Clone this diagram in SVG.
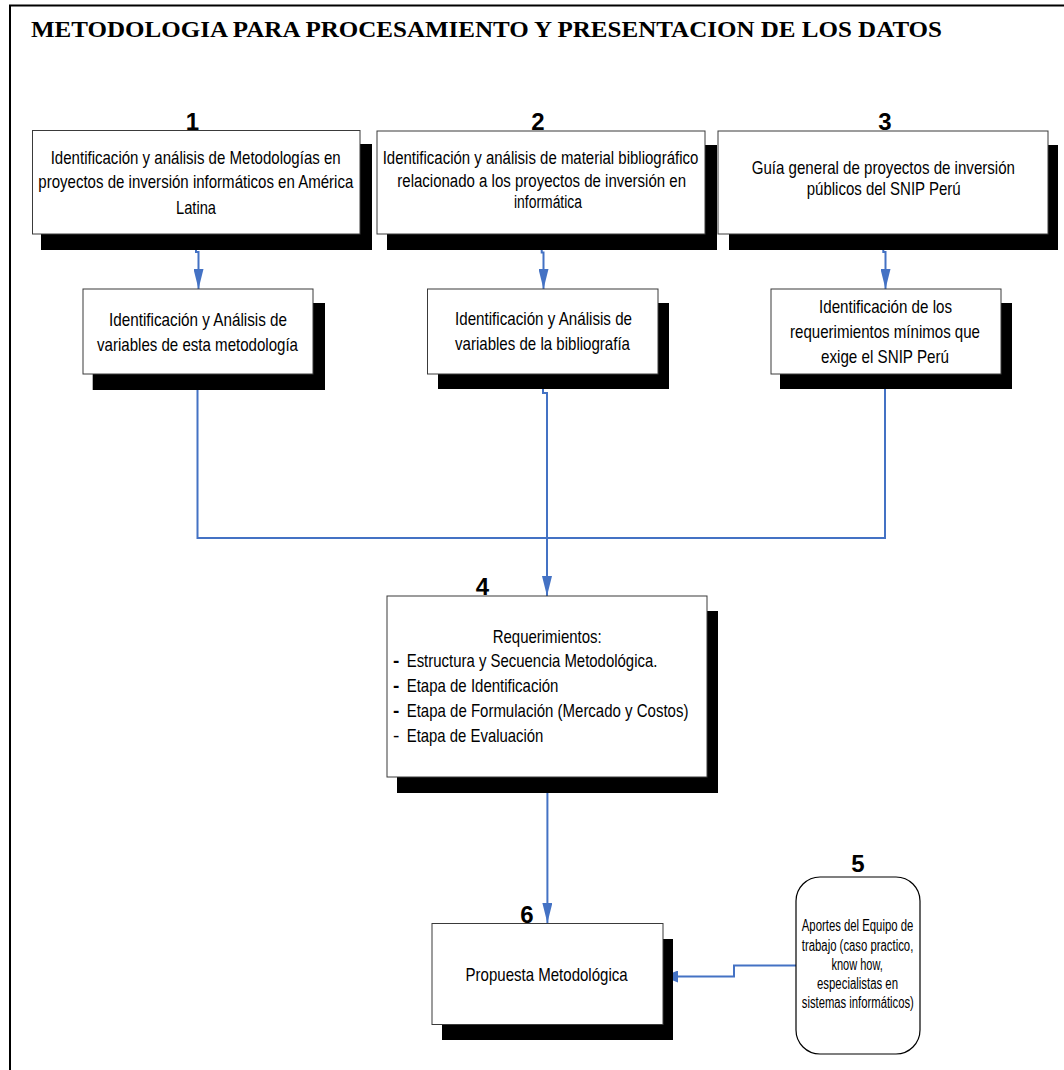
<svg xmlns="http://www.w3.org/2000/svg" width="1064" height="1070" viewBox="0 0 1064 1070">
  <defs>
    <style>
      .frame { fill: none; stroke: #000; stroke-width: 2; }
      .title { font-family: "Liberation Serif", "Times New Roman", serif; font-weight: bold; font-size: 24px; fill: #000; }
      .box { fill: #fff; stroke: #3a3a3a; stroke-width: 1; }
      .shadow { fill: #000; }
      .round { fill: #fff; stroke: #000; stroke-width: 1.2; }
      .t { font-family: "Liberation Sans Narrow", "Liberation Sans", Arial, sans-serif; font-size: 19px; fill: #000; }
      .t18 { font-size: 18px; }
      .t15 { font-size: 16px; }
      .num { font-family: "Liberation Sans Narrow", "Liberation Sans", Arial, sans-serif; font-weight: bold; font-size: 24px; fill: #000; text-anchor: middle; }
      .link { fill: none; stroke: #4472C4; stroke-width: 2; }
    </style>
    <marker id="arrowDown" markerUnits="userSpaceOnUse" markerWidth="20" markerHeight="10" refX="20" refY="5" orient="auto">
      <path d="M0,0 L20,5 L0,10 z" fill="#4472C4"/>
    </marker>
    <marker id="arrowLeft" markerUnits="userSpaceOnUse" markerWidth="15" markerHeight="12" refX="15" refY="6" orient="auto">
      <path d="M0,0 L15,6 L0,12 z" fill="#4472C4"/>
    </marker>
  </defs>

  <rect width="1064" height="1070" fill="#fff"/>

  <!-- page frame and heading -->
  <path class="frame" d="M10,1072 V5.5 H1066"/>
  <text class="title" x="31" y="37" textLength="911" lengthAdjust="spacingAndGlyphs">METODOLOGIA PARA PROCESAMIENTO Y PRESENTACION DE LOS DATOS</text>

  <!-- connectors -->
  <g id="connectors">
    <path class="link" d="M196,234 V252 H198.5 V289" marker-end="url(#arrowDown)"/>
    <path class="link" d="M541.7,234 V252.5 H543.5 V289" marker-end="url(#arrowDown)"/>
    <path class="link" d="M883.3,234 V252 H885.5 V289" marker-end="url(#arrowDown)"/>
    <path class="link" d="M197.5,374 V538 H885 V374"/>
    <path class="link" d="M543,374 V393 H547 V596" marker-end="url(#arrowDown)"/>
    <path class="link" d="M547.4,777 V923" marker-end="url(#arrowDown)"/>
    <path class="link" d="M796,965.4 H734 V976.5 H663" marker-end="url(#arrowLeft)"/>
  </g>

  <!-- node 1 -->
  <g id="node1">
    <rect class="shadow" x="41" y="144" width="331" height="106"/>
    <rect class="box" x="32.5" y="130.5" width="327.5" height="103.5"/>
    <text class="num" x="192.5" y="130">1</text>
    <text class="t" x="50.7" y="164" textLength="290" lengthAdjust="spacingAndGlyphs">Identificación y análisis de Metodologías en</text>
    <text class="t" x="38.3" y="188.3" textLength="315" lengthAdjust="spacingAndGlyphs">proyectos de inversión informáticos en América</text>
    <text class="t" x="176" y="214.3" textLength="40" lengthAdjust="spacingAndGlyphs">Latina</text>
  </g>

  <!-- node 2 -->
  <g id="node2">
    <rect class="shadow" x="387" y="145" width="330" height="105"/>
    <rect class="box" x="377" y="131" width="328" height="103"/>
    <text class="num" x="538" y="129.5">2</text>
    <text class="t t18" x="382.7" y="164" textLength="315.6" lengthAdjust="spacingAndGlyphs">Identificación y análisis de material bibliográfico</text>
    <text class="t t18" x="397.3" y="186.5" textLength="288.7" lengthAdjust="spacingAndGlyphs">relacionado a los proyectos de inversión en</text>
    <text class="t t18" x="514" y="208" textLength="68" lengthAdjust="spacingAndGlyphs">informática</text>
  </g>

  <!-- node 3 -->
  <g id="node3">
    <rect class="shadow" x="729" y="145" width="329" height="105"/>
    <rect class="box" x="718" y="131" width="330" height="103"/>
    <text class="num" x="885" y="130">3</text>
    <text class="t" x="751.7" y="174" textLength="263.3" lengthAdjust="spacingAndGlyphs">Guía general de proyectos de inversión</text>
    <text class="t" x="806.7" y="195" textLength="154" lengthAdjust="spacingAndGlyphs">públicos del SNIP Perú</text>
  </g>

  <!-- node 1b -->
  <g id="node1b">
    <rect class="shadow" x="92.7" y="303" width="232.3" height="87"/>
    <rect class="box" x="83" y="289" width="230" height="85"/>
    <text class="t" x="109" y="326" textLength="178" lengthAdjust="spacingAndGlyphs">Identificación y Análisis de</text>
    <text class="t" x="97" y="350.7" textLength="201" lengthAdjust="spacingAndGlyphs">variables de esta metodología</text>
  </g>

  <!-- node 2b -->
  <g id="node2b">
    <rect class="shadow" x="438" y="303" width="231" height="86"/>
    <rect class="box" x="427.5" y="289" width="230.5" height="85"/>
    <text class="t" x="455" y="325" textLength="177" lengthAdjust="spacingAndGlyphs">Identificación y Análisis de</text>
    <text class="t" x="455" y="350" textLength="175" lengthAdjust="spacingAndGlyphs">variables de la bibliografía</text>
  </g>

  <!-- node 3b -->
  <g id="node3b">
    <rect class="shadow" x="780" y="303" width="232" height="86"/>
    <rect class="box" x="771" y="289" width="230" height="85"/>
    <text class="t" x="819" y="312.7" textLength="133" lengthAdjust="spacingAndGlyphs">Identificación de los</text>
    <text class="t" x="790" y="338" textLength="190" lengthAdjust="spacingAndGlyphs">requerimientos mínimos que</text>
    <text class="t" x="821" y="363" textLength="128" lengthAdjust="spacingAndGlyphs">exige el SNIP Perú</text>
  </g>

  <!-- node 4 -->
  <g id="node4">
    <rect class="shadow" x="397" y="611" width="321" height="182"/>
    <rect class="box" x="387" y="596" width="320" height="181"/>
    <text class="num" x="482.5" y="595">4</text>
    <text class="t" x="492.7" y="642.7" textLength="109" lengthAdjust="spacingAndGlyphs">Requerimientos:</text>
    <text class="t" x="393" y="666.7" font-weight="bold">-</text>
    <text class="t" x="406.7" y="666.7" textLength="250.7" lengthAdjust="spacingAndGlyphs">Estructura y Secuencia Metodológica.</text>
    <text class="t" x="393" y="692.3" font-weight="bold">-</text>
    <text class="t" x="406.7" y="692.3" textLength="151.7" lengthAdjust="spacingAndGlyphs">Etapa de Identificación</text>
    <text class="t" x="393" y="717.3" font-weight="bold">-</text>
    <text class="t" x="406.7" y="717.3" textLength="281.7" lengthAdjust="spacingAndGlyphs">Etapa de Formulación (Mercado y Costos)</text>
    <text class="t" x="393" y="741.7">-</text>
    <text class="t" x="406.7" y="741.7" textLength="136.7" lengthAdjust="spacingAndGlyphs">Etapa de Evaluación</text>
  </g>

  <!-- node 5 -->
  <g id="node5">
    <rect class="round" x="796" y="877" width="124" height="177" rx="24" ry="24"/>
    <text class="num" x="858" y="872">5</text>
    <text class="t t15" x="801.8" y="931" textLength="111.5" lengthAdjust="spacingAndGlyphs">Aportes del Equipo de</text>
    <text class="t t15" x="801.8" y="950.5" textLength="111.5" lengthAdjust="spacingAndGlyphs">trabajo (caso practico,</text>
    <text class="t t15" x="831.5" y="969.8" textLength="51.3" lengthAdjust="spacingAndGlyphs">know how,</text>
    <text class="t t15" x="817" y="989" textLength="81" lengthAdjust="spacingAndGlyphs">especialistas en</text>
    <text class="t t15" x="801.8" y="1007.6" textLength="112" lengthAdjust="spacingAndGlyphs">sistemas informáticos)</text>
  </g>

  <!-- node 6 -->
  <g id="node6">
    <rect class="shadow" x="442" y="939" width="231" height="101"/>
    <rect class="box" x="432" y="923.5" width="231" height="101"/>
    <text class="num" x="527" y="922.5">6</text>
    <text class="t" x="465.6" y="981" textLength="162" lengthAdjust="spacingAndGlyphs">Propuesta Metodológica</text>
  </g>
</svg>
